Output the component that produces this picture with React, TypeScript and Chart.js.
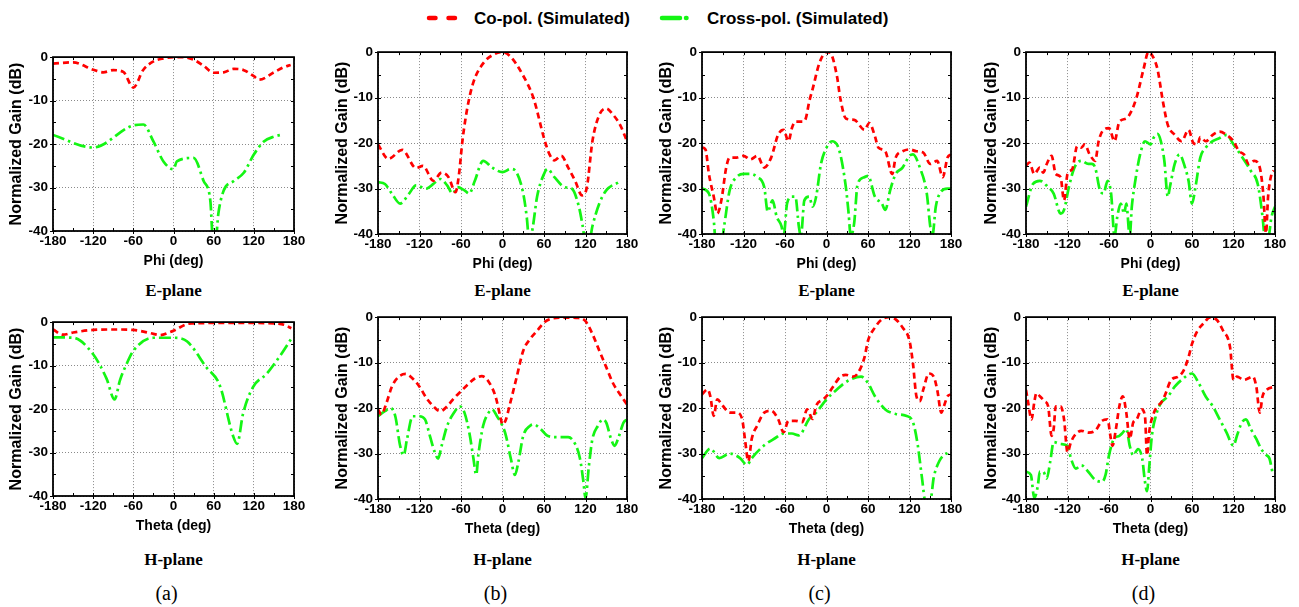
import React, { useEffect, useRef } from "react";
import { Chart, registerables } from "chart.js";

Chart.register(...registerables);

// ---------- Data (angle in deg, normalized gain in dB) ----------
const xTicks = [-180, -120, -60, 0, 60, 120, 180];
const yTicks = [-40, -30, -20, -10, 0];

const seriesNames = ["Co-pol. (Simulated)", "Cross-pol. (Simulated)"];
const panelLetters = ["(a)", "(b)", "(c)", "(d)"];

// (a) E-plane
const aE_co: [number, number][] = [[-180,-1.5],[-150,-1.2],[-120,-2.9],[-105,-3.5],[-90,-3],[-75,-3.4],[-60,-7],[-45,-2.9],[-30,-1],[-15,-0.3],[0,0],[15,0],[30,-0.6],[45,-2],[60,-3.6],[75,-3.5],[90,-2.7],[105,-3],[120,-4.4],[128,-5.2],[150,-3.5],[165,-2.3],[175,-1.8]];
const aE_cr: [number, number][] = [[-180,-17.9],[-120,-20.8],[-60,-15.7],[-45,-15.5],[-30,-19.4],[-15,-24],[0,-25.8],[5,-24],[30,-23.2],[45,-28.5],[55,-33],[59,-42],[63,-42],[67,-36],[75,-30.7],[90,-28.5],[105,-26.6],[120,-22.4],[135,-19.4],[150,-18.3],[163,-17.8]];
// (a) H-plane
const aH_co: [number, number][] = [[-180,-1.7],[-165,-2.9],[-150,-2.4],[-120,-1.8],[-90,-1.7],[-60,-1.8],[-30,-2.7],[-20,-3],[-5,-2.3],[0,-2],[20,-0.45],[30,-0.3],[60,-0.2],[90,-0.2],[120,-0.2],[150,-0.3],[165,-0.6],[176,-1.4]];
const aH_cr: [number, number][] = [[-180,-3.5],[-150,-3.6],[-120,-7.4],[-100,-13],[-88,-17.8],[-80,-13.4],[-70,-9.6],[-60,-6.6],[-30,-3.6],[0,-3.6],[20,-4.4],[49,-10.4],[69,-14.5],[89,-26.2],[95,-28],[104,-21],[119,-14.9],[139,-11.9],[159,-7.8],[176,-3.8]];

// (b) E-plane
const bE_co: [number, number][] = [[-180,-20.3],[-165,-23.5],[-145,-21.5],[-125,-25.5],[-115,-25],[-100,-28.3],[-88,-26.5],[-78,-27.5],[-68,-30.8],[-63,-27],[-58,-19.6],[-51,-12.4],[-42,-6.6],[-27,-2.3],[-8,-0.2],[0,0],[11,-0.9],[30,-5.2],[45,-10.2],[60,-18.9],[68,-22.5],[75,-23.8],[85,-22.8],[95,-25.4],[105,-28.3],[115,-31.5],[122,-29.7],[130,-19.6],[140,-13.8],[150,-12.4],[160,-13.8],[170,-16],[180,-19.6]];
const bE_cr: [number, number][] = [[-180,-28.6],[-170,-29],[-160,-31.1],[-148,-33.3],[-135,-31.1],[-125,-29.3],[-110,-30],[-100,-29],[-90,-27.9],[-80,-29.3],[-72,-31.1],[-65,-29.7],[-55,-30.4],[-48,-31.1],[-40,-28.3],[-28,-23.9],[-15,-25.4],[0,-26.4],[12,-25.7],[20,-26.4],[30,-31.1],[35,-36.2],[39,-42],[44,-38.3],[50,-31.8],[60,-26.8],[65,-25.7],[75,-27.5],[90,-29.7],[100,-30],[110,-33.7],[116,-38.3],[120,-42],[125,-42],[130,-38.3],[140,-33.3],[150,-30.4],[168,-28.6]];
// (b) H-plane
const bH_co: [number, number][] = [[-180,-20.3],[-175,-21.4],[-168,-19],[-160,-15.3],[-150,-13.1],[-140,-12.5],[-130,-13.5],[-120,-15.3],[-110,-17.8],[-100,-19.6],[-90,-20.7],[-80,-19.6],[-70,-17.8],[-60,-16.3],[-50,-14.8],[-40,-13.5],[-30,-13],[-20,-14.2],[-10,-17.5],[-3,-22],[0,-23.6],[5,-22.5],[10,-19.6],[20,-13.5],[30,-7.4],[40,-4.8],[50,-3],[60,-1.2],[70,-0.4],[90,-0.1],[110,-0.2],[120,-0.9],[130,-3.7],[140,-7.4],[150,-11],[160,-14.6],[170,-17],[180,-19.2]];
const bH_cr: [number, number][] = [[-180,-21.8],[-170,-20.7],[-162,-20],[-155,-21.8],[-148,-28.3],[-143,-30.4],[-138,-26.8],[-130,-21.8],[-120,-21.8],[-112,-22.5],[-105,-26.1],[-98,-29.7],[-93,-31.1],[-88,-28.3],[-80,-23.9],[-70,-21],[-62,-19.6],[-55,-21],[-48,-25.4],[-42,-31.1],[-38,-34.7],[-35,-30.4],[-28,-23.9],[-20,-21],[-15,-20.3],[-8,-21.8],[0,-23.9],[5,-26.1],[12,-31.1],[18,-34.7],[23,-31.8],[30,-26.1],[40,-23.9],[45,-23.6],[55,-24.6],[65,-26.1],[80,-26.4],[95,-26.4],[105,-27.9],[112,-31.1],[117,-36.2],[120,-39.8],[125,-32.6],[130,-26.8],[138,-23.9],[145,-22.5],[150,-23.2],[157,-26.8],[162,-28.3],[167,-26.8],[175,-23.2],[180,-22.5]];

// (c) E-plane
const cE_co: [number, number][] = [[-180,-21],[-175,-21.4],[-170,-26.8],[-163,-31.8],[-158,-35.5],[-152,-32.6],[-145,-25.4],[-140,-23.2],[-130,-23.2],[-120,-22.8],[-110,-23.6],[-100,-22.8],[-90,-25.4],[-80,-23.2],[-70,-18.2],[-62,-17.1],[-55,-19.6],[-50,-16.7],[-45,-15.3],[-35,-15.3],[-30,-14.6],[-25,-10.9],[-20,-8.1],[-10,-2.3],[0,0],[5,-0.1],[15,-5.2],[20,-10.2],[28,-14.6],[40,-14.9],[55,-17.1],[62,-15.6],[70,-18.5],[75,-21],[85,-21.8],[95,-26.8],[100,-23.2],[110,-21.8],[120,-21.4],[130,-21.8],[140,-22.1],[150,-24.6],[160,-23.9],[168,-27.5],[175,-23.2],[180,-22.5]];
const cE_cr: [number, number][] = [[-180,-30],[-170,-31.1],[-163,-37],[-160,-42],[-152,-42],[-148,-38.3],[-140,-30.4],[-130,-27.5],[-120,-26.8],[-110,-26.8],[-100,-27.5],[-90,-29.7],[-85,-35.1],[-78,-32.6],[-72,-36.2],[-65,-38.3],[-62,-40.5],[-57,-33.3],[-50,-31.8],[-45,-31.8],[-40,-38.3],[-37,-40.5],[-32,-32.6],[-25,-31.8],[-20,-34],[-15,-31.8],[-8,-24.6],[0,-21],[8,-19.6],[15,-20.3],[20,-22.5],[28,-29.7],[32,-35.5],[35,-40.5],[40,-37.6],[45,-29],[55,-27.5],[60,-27.2],[70,-31.8],[80,-33.3],[85,-34.7],[92,-30.4],[100,-26.8],[110,-25.4],[120,-22.8],[125,-22.5],[135,-25.4],[145,-31.1],[150,-38.3],[153,-40.5],[158,-34],[165,-30.8],[175,-30],[180,-30]];
// (c) H-plane
const cH_co: [number, number][] = [[-180,-17],[-172,-15.9],[-168,-17.4],[-163,-21.7],[-158,-18.1],[-150,-19.5],[-140,-21],[-130,-21],[-122,-22.4],[-118,-26.7],[-113,-31.7],[-108,-26.7],[-100,-23.8],[-90,-21],[-80,-20.6],[-70,-22.4],[-62,-25.3],[-55,-22.8],[-45,-22.8],[-35,-23.1],[-28,-20.3],[-20,-22.4],[-15,-19.5],[-5,-18.1],[0,-17.4],[10,-15.2],[20,-13.1],[28,-12.7],[38,-13.1],[45,-12.4],[55,-8.8],[60,-5.2],[70,-2.3],[80,-0.5],[90,0],[100,-0.5],[110,-2.3],[120,-5.2],[125,-10.2],[130,-17.4],[135,-18.5],[140,-15.9],[148,-12.4],[155,-13.1],[160,-15.9],[166,-21],[170,-19.5],[175,-17.4],[180,-17]];
const cH_cr: [number, number][] = [[-180,-31],[-168,-28.9],[-155,-31],[-140,-30],[-125,-31],[-115,-32.5],[-108,-31],[-90,-28.2],[-75,-26.7],[-62,-25.6],[-50,-25.6],[-40,-26],[-25,-22.4],[-15,-21],[0,-18.1],[15,-15.9],[30,-14.1],[50,-13.1],[60,-14.5],[70,-17.4],[85,-20.3],[100,-21.3],[115,-21.7],[125,-23.1],[132,-28.2],[138,-35.3],[143,-40.5],[150,-40.5],[155,-35.3],[163,-31.7],[170,-30.3],[175,-29.9]];

// (d) E-plane
const dE_co: [number, number][] = [[-180,-25],[-175,-24.3],[-168,-26.8],[-160,-25.4],[-155,-26.5],[-150,-24.6],[-143,-22.8],[-137,-26.8],[-130,-27.5],[-125,-32.6],[-120,-26.8],[-113,-25.7],[-106,-20.7],[-100,-21],[-95,-20.3],[-88,-22.5],[-80,-23.9],[-75,-19.6],[-68,-17.1],[-60,-16.7],[-52,-19.6],[-45,-15.3],[-35,-14.6],[-28,-13.1],[-20,-9.9],[-10,-3.7],[-3,0],[3,-0.9],[10,-3.7],[18,-10.9],[25,-16],[35,-18.2],[45,-19.6],[55,-17.1],[62,-20],[68,-20.3],[72,-18.7],[80,-19.6],[90,-18.2],[100,-17.5],[110,-18.2],[120,-19.6],[128,-21.8],[135,-22.5],[142,-24.6],[150,-23.9],[158,-25.4],[163,-31.1],[167,-39.8],[170,-31.8],[175,-26.8],[178,-26]];
const dE_cr: [number, number][] = [[-180,-34],[-170,-29],[-160,-28.3],[-148,-29.7],[-140,-31.1],[-130,-35.5],[-125,-34.7],[-118,-29.7],[-110,-25.4],[-100,-23.9],[-90,-24.6],[-85,-24.6],[-80,-25.4],[-73,-30.4],[-68,-31.1],[-62,-28.3],[-57,-31.1],[-52,-40.5],[-48,-36.2],[-43,-33.3],[-38,-35.5],[-35,-33.3],[-30,-40.5],[-27,-34],[-22,-28.3],[-15,-22.5],[-8,-19.6],[0,-20.3],[5,-18.7],[10,-18],[15,-19.6],[20,-23.9],[25,-31.8],[28,-29.7],[35,-24.6],[42,-22.5],[50,-25.4],[55,-28.3],[60,-33.3],[65,-29.7],[72,-23.2],[80,-21],[90,-19.6],[100,-18.9],[110,-18.2],[120,-20.3],[130,-22.5],[145,-26.1],[155,-29],[162,-36.2],[165,-40.5],[170,-41],[175,-36.2],[180,-34]];
// (d) H-plane
const dH_co: [number, number][] = [[-180,-16],[-177,-18.7],[-172,-22.5],[-168,-18.7],[-165,-16.7],[-160,-17.4],[-153,-18.5],[-148,-19.6],[-143,-26.1],[-140,-24.6],[-137,-19.6],[-130,-19.6],[-125,-22.5],[-120,-29.7],[-115,-27.5],[-110,-26.1],[-100,-25],[-90,-25.4],[-80,-25],[-70,-22.8],[-62,-22.5],[-58,-26.1],[-55,-28.3],[-50,-24.6],[-45,-19.6],[-40,-17.4],[-35,-21],[-30,-26.8],[-25,-23.2],[-20,-22.5],[-13,-20.3],[-8,-21.8],[-5,-30.4],[-2,-25.4],[5,-21],[10,-19.6],[15,-18.9],[20,-17.5],[30,-13.8],[40,-13.1],[48,-11.7],[55,-8.8],[60,-5.9],[68,-3],[78,-1.2],[85,-0.1],[95,-0.5],[105,-3],[115,-6.6],[120,-13.8],[125,-13.1],[135,-13.8],[148,-13.1],[153,-15.3],[158,-21],[162,-17.4],[168,-16],[180,-15.3]];
const dH_cr: [number, number][] = [[-180,-34],[-173,-34.7],[-168,-39.8],[-163,-37.2],[-160,-34],[-155,-34],[-150,-35.5],[-145,-31.8],[-140,-27.5],[-130,-27.9],[-120,-28.3],[-115,-31.1],[-108,-33.3],[-100,-32.6],[-90,-34],[-80,-35.8],[-70,-36.2],[-65,-34.7],[-60,-30.4],[-53,-26.8],[-45,-26.1],[-40,-25.4],[-35,-24.6],[-30,-28.3],[-25,-30.4],[-18,-29],[-12,-31.1],[-8,-36.2],[-5,-38.3],[-2,-33.3],[2,-26.1],[8,-21.6],[15,-18.9],[25,-17.5],[35,-15.3],[45,-13.8],[60,-12.4],[70,-14.6],[80,-17.5],[90,-19.6],[100,-22.5],[110,-25.4],[120,-28.3],[125,-26.1],[132,-23.2],[138,-22.5],[145,-24.6],[153,-26.8],[160,-29],[168,-30.4],[172,-31.1],[177,-34.7]];

// ---------- Layout (pixel geometry of each plot area) ----------
type PanelCfg = {
  co: [number, number][];
  cr: [number, number][];
  xTitle: string;
  left: number; top: number; right: number; bottom: number; yTitleX: number;
};

const panels: PanelCfg[] = [
  { co: aE_co, cr: aE_cr, xTitle: "Phi (deg)", left: 53, top: 54, right: 294, bottom: 231, yTitleX: 17 },
  { co: bE_co, cr: bE_cr, xTitle: "Phi (deg)", left: 378, top: 49, right: 627, bottom: 234, yTitleX: 343 },
  { co: cE_co, cr: cE_cr, xTitle: "Phi (deg)", left: 702, top: 49, right: 951, bottom: 234, yTitleX: 667 },
  { co: dE_co, cr: dE_cr, xTitle: "Phi (deg)", left: 1026, top: 49, right: 1275, bottom: 234, yTitleX: 992 },
  { co: aH_co, cr: aH_cr, xTitle: "Theta (deg)", left: 53, top: 319, right: 294, bottom: 496, yTitleX: 17 },
  { co: bH_co, cr: bH_cr, xTitle: "Theta (deg)", left: 378, top: 314, right: 627, bottom: 499, yTitleX: 343 },
  { co: cH_co, cr: cH_cr, xTitle: "Theta (deg)", left: 702, top: 314, right: 951, bottom: 499, yTitleX: 667 },
  { co: dH_co, cr: dH_cr, xTitle: "Theta (deg)", left: 1026, top: 314, right: 1275, bottom: 499, yTitleX: 992 },
];

const RED = "#ff0000";
const GREEN = "#14f514";
const SANS = "'Liberation Sans', Arial, sans-serif";
const SERIF = "'Liberation Serif', 'Times New Roman', serif";
const PAD_TOP = 10;
const PAD_RIGHT = 14;
const X_H = 39;

const framePlugin = {
  id: "frame",
  afterDatasetsDraw(chart: any) {
    const { ctx, chartArea: a, scales } = chart;
    const xs = scales.x, ys = scales.y;
    ctx.save();
    ctx.strokeStyle = "#000";
    ctx.lineWidth = 1;
    ctx.setLineDash([]);
    ctx.beginPath();
    for (let v = -180; v <= 180; v += 30) {
      const px = Math.round(xs.getPixelForValue(v)) + 0.5;
      const major = v % 60 === 0;
      ctx.moveTo(px, a.bottom + (major ? 3 : 0));
      ctx.lineTo(px, a.bottom - 3);
      ctx.moveTo(px, a.top);
      ctx.lineTo(px, a.top + 3);
    }
    for (let v = -40; v <= 0; v += 5) {
      const py = Math.round(ys.getPixelForValue(v)) + 0.5;
      const major = v % 10 === 0;
      ctx.moveTo(a.left - (major ? 3 : 0), py);
      ctx.lineTo(a.left + 3, py);
      ctx.moveTo(a.right, py);
      ctx.lineTo(a.right - 3, py);
    }
    ctx.stroke();
    ctx.lineWidth = 1.8;
    ctx.strokeRect(a.left, a.top, a.right - a.left, a.bottom - a.top);
    ctx.restore();
  },
};

function Panel({ cfg }: { cfg: PanelCfg }) {
  const ref = useRef<HTMLCanvasElement>(null);
  const cLeft = cfg.yTitleX - 10;
  const cTop = cfg.top - PAD_TOP;
  const w = cfg.right + PAD_RIGHT - cLeft;
  const h = cfg.bottom + X_H - cTop;
  const yW = cfg.left - cLeft;

  useEffect(() => {
    const chart = new Chart(ref.current as HTMLCanvasElement, {
      type: "line",
      data: {
        datasets: [
          {
            label: seriesNames[0],
            data: cfg.co.map(([x, y]) => ({ x, y })),
            borderColor: RED,
            borderWidth: 2.7,
            borderDash: [6, 4],
            pointRadius: 0,
            cubicInterpolationMode: "monotone",
            fill: false,
          },
          {
            label: seriesNames[1],
            data: cfg.cr.map(([x, y]) => ({ x, y })),
            borderColor: GREEN,
            borderWidth: 2.7,
            borderDash: [12, 4, 2.5, 4],
            pointRadius: 0,
            cubicInterpolationMode: "monotone",
            fill: false,
          },
        ],
      },
      options: {
        responsive: false,
        animation: false,
        devicePixelRatio: 1,
        layout: { padding: { top: PAD_TOP, right: PAD_RIGHT, left: 0, bottom: 0 } },
        plugins: { legend: { display: false }, tooltip: { enabled: false } },
        scales: {
          x: {
            type: "linear",
            min: -180,
            max: 180,
            afterBuildTicks: (s: any) => { s.ticks = xTicks.map((v) => ({ value: v })); },
            afterFit: (s: any) => { s.height = X_H; },
            grid: { color: "#8a8a8a", lineWidth: 1, drawTicks: false },
            border: { display: false, dash: [1, 2] },
            ticks: { color: "#000", padding: 2, maxRotation: 0, autoSkip: false, font: { family: SANS, size: 13.5, weight: "bold" } },
            title: { display: true, text: cfg.xTitle, color: "#000", padding: { top: 0, bottom: 0 }, font: { family: SANS, size: 14, weight: "bold" } },
          },
          y: {
            type: "linear",
            min: -40,
            max: 0,
            afterBuildTicks: (s: any) => { s.ticks = yTicks.map((v) => ({ value: v })); },
            afterFit: (s: any) => { s.width = yW; },
            grid: { color: "#8a8a8a", lineWidth: 1, drawTicks: false },
            border: { display: false, dash: [1, 2] },
            ticks: { color: "#000", padding: 5, font: { family: SANS, size: 13.5, weight: "bold" } },
            title: { display: true, text: "Normalized Gain (dB)", color: "#000", padding: { top: 0, bottom: 0 }, font: { family: SANS, size: 16, weight: "bold" } },
          },
        },
      },
      plugins: [framePlugin],
    } as any);
    return () => chart.destroy();
  }, []);

  return (
    <canvas
      ref={ref}
      width={w}
      height={h}
      style={{ position: "absolute", left: cLeft, top: cTop, width: w, height: h }}
    />
  );
}

function Label({ text, x, y, font, size, weight }: { text: string; x: number; y: number; font: string; size: number; weight: string }) {
  return (
    <div
      style={{
        position: "absolute",
        left: x,
        top: y,
        transform: "translate(-50%, -50%)",
        fontFamily: font,
        fontSize: size,
        fontWeight: weight as any,
        whiteSpace: "nowrap",
        lineHeight: 1,
        color: "#000",
      }}
    >
      {text}
    </div>
  );
}

export default function App() {
  const legendText = { position: "absolute" as const, top: 9, fontFamily: SANS, fontWeight: "bold" as const, fontSize: 17, lineHeight: "19px", whiteSpace: "nowrap" as const, color: "#000" };
  return (
    <div style={{ position: "absolute", left: 0, top: 0, width: 1299, height: 607, background: "#fff", overflow: "hidden" }}>
      {/* Legend */}
      <svg style={{ position: "absolute", left: 0, top: 0 }} width={1299} height={40}>
        <line x1={429} y1={18} x2={456} y2={18} stroke={RED} strokeWidth={4.5} strokeLinecap="round" strokeDasharray="6.5 13" />
        <line x1={662} y1={18} x2={688} y2={18} stroke={GREEN} strokeWidth={4.5} strokeLinecap="round" strokeDasharray="18 6 0.5 30" />
      </svg>
      <div style={{ ...legendText, left: 474 }}>{seriesNames[0]}</div>
      <div style={{ ...legendText, left: 707 }}>{seriesNames[1]}</div>

      {panels.map((p, i) => (
        <Panel key={i} cfg={p} />
      ))}

      {panels.slice(0, 4).map((p, i) => (
        <Label key={"e" + i} text="E-plane" x={(p.left + p.right) / 2} y={290} font={SERIF} size={17} weight="bold" />
      ))}
      {panels.slice(4).map((p, i) => (
        <Label key={"h" + i} text="H-plane" x={(p.left + p.right) / 2} y={559} font={SERIF} size={17} weight="bold" />
      ))}
      {panels.slice(4).map((p, i) => (
        <Label key={"l" + i} text={panelLetters[i]} x={(p.left + p.right) / 2 - 7} y={593} font={SERIF} size={20} weight="normal" />
      ))}
    </div>
  );
}
